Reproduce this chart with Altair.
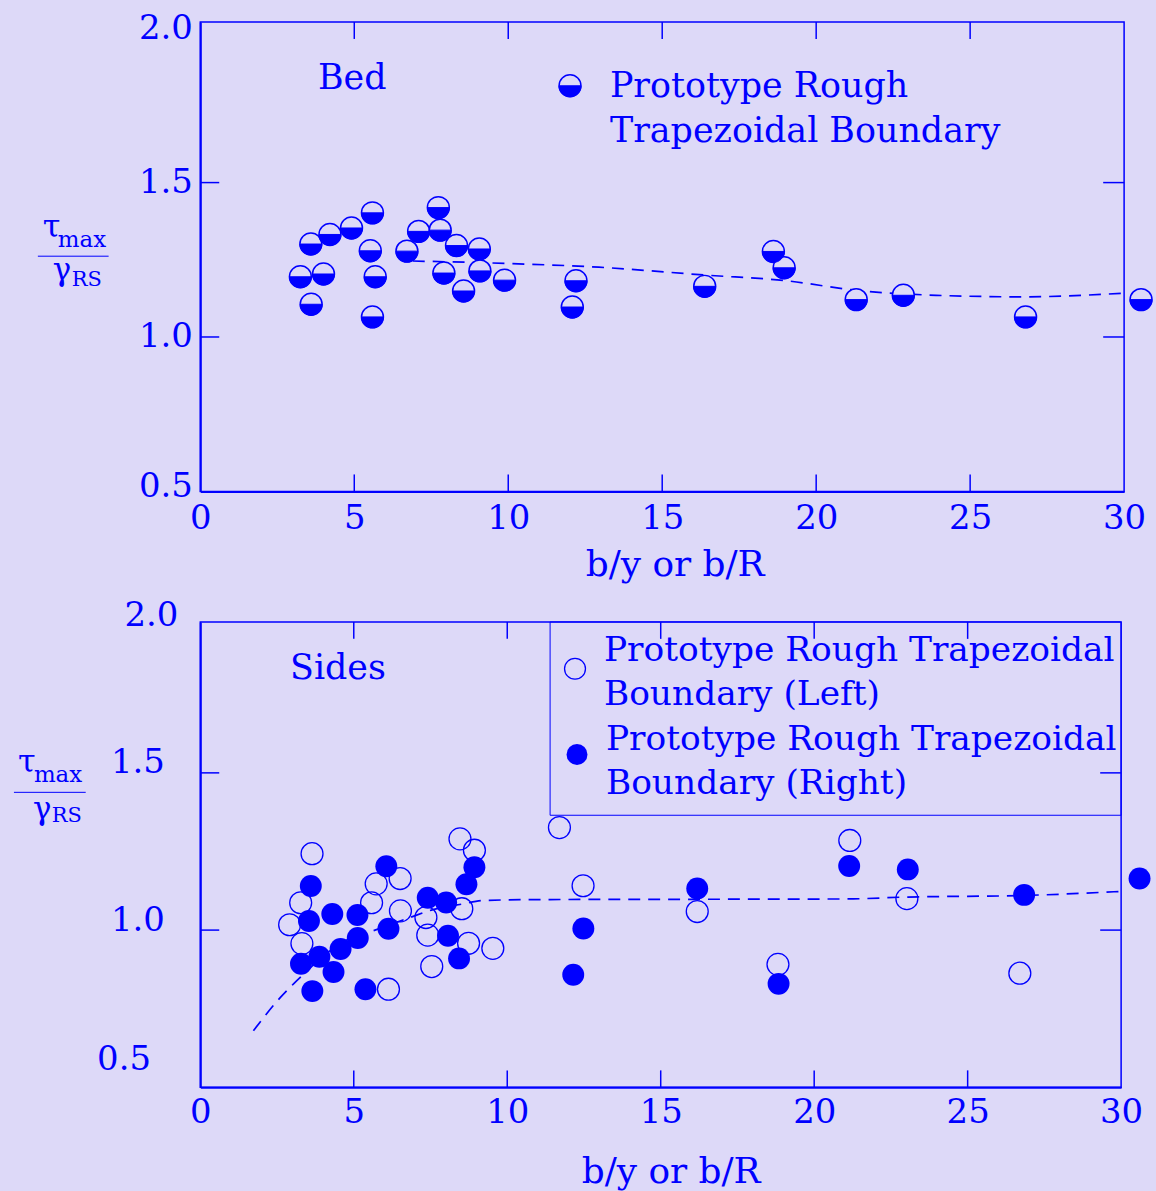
import altair as alt
import pandas as pd

BLUE = "#0000ff"
BG = "#ddd9f8"
FONT = "DejaVu Serif"

# ---------------- data ----------------
x_labels = [0, 5, 10, 15, 20, 25, 30]
y_labels = [0.5, 1.0, 1.5, 2.0]
x_ticks = [5, 10, 15, 20, 25]
y_ticks = [1.0, 1.5]

# Bed (top panel)
bed_x = [3.25, 3.59, 3.60, 4.00, 4.21, 4.91, 5.59, 5.52, 5.68, 5.59, 6.71, 7.09, 7.73, 7.79,
         7.91, 8.32, 8.55, 9.06, 9.08, 9.88, 12.20, 12.08, 16.38, 18.61, 18.96, 21.30, 22.83,
         26.80, 30.55]
bed_y = [1.195, 1.301, 1.106, 1.204, 1.332, 1.353, 1.402, 1.279, 1.195, 1.065, 1.278, 1.342,
         1.419, 1.346, 1.207, 1.296, 1.149, 1.285, 1.214, 1.184, 1.182, 1.097, 1.164, 1.277,
         1.224, 1.121, 1.135, 1.065, 1.121]
bed_fit_x = [6.9, 10.0, 12.94, 16.46, 18.95, 21.4, 23.9, 26.76, 30.0]
bed_fit_y = [1.246, 1.238, 1.226, 1.200, 1.183, 1.150, 1.135, 1.130, 1.142]

# Sides (bottom panel)
left_x = [3.64, 3.27, 2.91, 3.31, 5.73, 6.51, 5.58, 6.52, 7.35, 7.41, 7.54, 6.13, 8.46, 8.93,
          8.52, 8.74, 9.53, 11.70, 12.47, 16.19, 18.82, 21.16, 23.02, 26.70]
left_y = [1.243, 1.087, 1.017, 0.957, 1.147, 1.164, 1.087, 1.061, 1.040, 0.984, 0.884, 0.812,
          1.290, 1.254, 1.068, 0.958, 0.942, 1.326, 1.141, 1.059, 0.891, 1.285, 1.100, 0.863]
right_x = [3.60, 3.54, 3.28, 3.88, 3.65, 4.30, 4.34, 4.57, 5.12, 5.13, 5.38, 6.06, 6.13, 7.41,
           8.01, 8.07, 8.43, 8.67, 8.93, 12.48, 12.15, 16.19, 18.84, 21.14, 23.05, 26.84, 30.60]
right_y = [1.140, 1.029, 0.893, 0.915, 0.806, 1.051, 0.867, 0.940, 1.048, 0.975, 0.812, 1.203,
           1.004, 1.103, 1.088, 0.982, 0.910, 1.146, 1.200, 1.005, 0.858, 1.132, 0.829, 1.204,
           1.193, 1.112, 1.164]
sides_fit_x = [1.73, 2.61, 3.37, 4.1, 4.8, 5.64, 6.83, 7.58, 8.55, 9.2, 10.82, 16.0, 21.0, 23.0,
               26.8, 30.0]
sides_fit_y = [0.68, 0.786, 0.86, 0.925, 0.97, 0.998, 1.04, 1.065, 1.083, 1.094, 1.097, 1.098,
               1.099, 1.105, 1.11, 1.123]

legend_top = ["Prototype Rough", "Trapezoidal Boundary"]
legend_bottom = ["Prototype Rough Trapezoidal", "Boundary (Left)",
                 "Prototype Rough Trapezoidal", "Boundary (Right)"]
x_title = "b/y or b/R"

one = pd.DataFrame({"a": [0]})
HALF = "M -1 0 A 1 1 0 0 0 1 0 Z"
MSIZE = 484


def text_at(txt, x, y, size, align="left", baseline="middle"):
    return alt.Chart(one).mark_text(
        text=txt, font=FONT, fontSize=size, color=BLUE, align=align, baseline=baseline
    ).encode(x=alt.value(x), y=alt.value(y))


def panel(W, H, ydom, y_off, y_pad, x_pad, title_x, title_y, anchor, frac, label,
          label_pos):
    xs = alt.Scale(domain=[0, 30], nice=False, zero=False)
    ys = alt.Scale(domain=ydom, nice=False, zero=False)
    xaxis = alt.Axis(values=x_labels, format="d", ticks=False, grid=False,
                     domainColor=BLUE, domainWidth=2, labelColor=BLUE, labelFont=FONT,
                     labelFontSize=34, labelPadding=x_pad, labelFlush=False,
                     labelOverlap=False, title=x_title, titleColor=BLUE, titleFont=FONT,
                     titleFontSize=36, titleFontWeight="normal", titleX=title_x,
                     titleY=title_y, titleBaseline="middle", titleAlign="center")
    yaxis = alt.Axis(values=y_labels, format=".1f", ticks=False, grid=False,
                     domainColor=BLUE, domainWidth=2, labelColor=BLUE, labelFont=FONT,
                     labelFontSize=34, labelPadding=y_pad, labelOffset=y_off,
                     labelOverlap=False, labelFlush=False, title=None)

    def X(f):
        return alt.X(f, type="quantitative", scale=xs, axis=xaxis)

    def Y(f):
        return alt.Y(f, type="quantitative", scale=ys, axis=yaxis)

    ax0, ax1, ay0, ay1 = anchor
    layers = [
        alt.Chart(one).mark_rect(opacity=0).encode(
            x=alt.value(ax0), x2=alt.value(ax1), y=alt.value(ay0), y2=alt.value(ay1)),
    ]
    xt = pd.DataFrame({"xt": x_ticks})
    yt = pd.DataFrame({"yt": y_ticks})
    layers += [
        alt.Chart(xt).mark_rule(color=BLUE, strokeWidth=1.5).encode(
            x=X("xt"), y=alt.value(0), y2=alt.value(17)),
        alt.Chart(xt).mark_rule(color=BLUE, strokeWidth=1.5).encode(
            x=X("xt"), y=alt.value(H - 17), y2=alt.value(H)),
        alt.Chart(yt).mark_rule(color=BLUE, strokeWidth=1.5).encode(
            y=Y("yt"), x=alt.value(0), x2=alt.value(19)),
        alt.Chart(yt).mark_rule(color=BLUE, strokeWidth=1.5).encode(
            y=Y("yt"), x=alt.value(W - 21), x2=alt.value(W)),
    ]
    # y title as a fraction
    (tx, tb, mx, mb, lx0, lx1, ly, gx, gb, rx, rb) = frac
    layers += [
        text_at("\u03c4", tx, tb, 32, baseline="alphabetic"),
        text_at("max", mx, mb, 23, baseline="alphabetic"),
        alt.Chart(one).mark_rule(color=BLUE, strokeWidth=1).encode(
            x=alt.value(lx0), x2=alt.value(lx1), y=alt.value(ly)),
        text_at("\u03b3", gx, gb, 31, baseline="alphabetic"),
        text_at("RS", rx, rb, 21, baseline="alphabetic"),
        text_at(label, label_pos[0], label_pos[1], 35),
    ]
    return layers, X, Y


# ---------------- top panel ----------------
W1, H1 = 927, 471
top_layers, X1, Y1 = panel(
    W1, H1, [0.5, 2.02],
    {"condition": {"test": "datum.value == 0.5", "value": -5}, "value": 0},
    8, 10, 476, 73,
    (-200, 956, -19, 571),
    (-158, 216, -143, 226, -163, -92, 235, -148, 259, -129, 265),
    "Bed", (118, 56))

bed = pd.DataFrame({"x": bed_x, "y": bed_y})
bed_fit = pd.DataFrame({"x": bed_fit_x, "y": bed_fit_y})
top_layers += [
    alt.Chart(bed_fit).mark_line(color=BLUE, strokeWidth=1.7, strokeDash=[12, 8],
                                 interpolate="monotone").encode(x=X1("x"), y=Y1("y")),
    alt.Chart(bed).mark_point(shape="circle", filled=True, fill=BG, fillOpacity=1,
                              stroke=BLUE, strokeWidth=1.5, size=MSIZE, opacity=1).encode(
        x=X1("x"), y=Y1("y")),
    alt.Chart(bed).mark_point(shape=HALF, filled=True, fill=BLUE, fillOpacity=1, stroke=BLUE,
                              strokeWidth=1, size=MSIZE, opacity=1).encode(
        x=X1("x"), y=Y1("y")),
    # legend
    alt.Chart(one).mark_point(shape="circle", filled=True, fill=BG, fillOpacity=1,
                              stroke=BLUE, strokeWidth=1.5, size=MSIZE, opacity=1).encode(
        x=alt.value(371), y=alt.value(64)),
    alt.Chart(one).mark_point(shape=HALF, filled=True, fill=BLUE, fillOpacity=1, stroke=BLUE,
                              strokeWidth=1, size=MSIZE, opacity=1).encode(
        x=alt.value(371), y=alt.value(64)),
    text_at(legend_top[0], 411, 64, 35),
    text_at(legend_top[1], 411, 109, 35),
]
top = alt.layer(*top_layers).properties(width=W1, height=H1)

# ---------------- bottom panel ----------------
W2, H2 = 924, 467
bot_layers, X2, Y2 = panel(
    W2, H2, [0.5, 1.98],
    {"condition": [{"test": "datum.value == 0.5", "value": -28},
                   {"test": "datum.value == 2", "value": 0}], "value": -10},
    {"condition": [{"test": "datum.value == 0.5", "value": 50},
                   {"test": "datum.value == 2", "value": 22}], "value": 36},
    8, 472, 85,
    (-200, 956, -29, 581),
    (-183, 151, -167, 161, -187, -115, 171, -168, 198, -149, 201),
    "Sides", (90, 46))

left = pd.DataFrame({"x": left_x, "y": left_y})
right = pd.DataFrame({"x": right_x, "y": right_y})
sides_fit = pd.DataFrame({"x": sides_fit_x, "y": sides_fit_y})
top_label = pd.DataFrame({"v": [y_labels[-1]], "lbl": ["%.1f" % y_labels[-1]]})
bot_layers += [
    # the top label lies just above this panel's frame
    alt.Chart(top_label).mark_text(font=FONT, fontSize=34, color=BLUE, align="right",
                                   baseline="middle").encode(
        x=alt.value(-22), y=Y2("v"), text="lbl:N"),
    alt.Chart(one).mark_rect(fill=BG, fillOpacity=0, stroke=BLUE, strokeWidth=1).encode(
        x=alt.value(351), x2=alt.value(W2), y=alt.value(0), y2=alt.value(194)),
    alt.Chart(sides_fit).mark_line(color=BLUE, strokeWidth=1.7, strokeDash=[12, 8],
                                   interpolate="monotone").encode(x=X2("x"), y=Y2("y")),
    alt.Chart(left).mark_point(shape="circle", filled=False, stroke=BLUE, strokeWidth=1.3,
                               size=MSIZE, opacity=1).encode(x=X2("x"), y=Y2("y")),
    alt.Chart(right).mark_circle(color=BLUE, size=MSIZE, opacity=1).encode(
        x=X2("x"), y=Y2("y")),
    # legend
    alt.Chart(one).mark_point(shape="circle", filled=False, stroke=BLUE, strokeWidth=1.3,
                              size=440, opacity=1).encode(x=alt.value(376), y=alt.value(47)),
    alt.Chart(one).mark_circle(color=BLUE, size=440, opacity=1).encode(
        x=alt.value(378), y=alt.value(133)),
    text_at(legend_bottom[0], 405, 29, 34.5),
    text_at(legend_bottom[1], 405, 73, 34.5),
    text_at(legend_bottom[2], 407, 119, 34.5),
    text_at(legend_bottom[3], 407, 163, 34.5),
]
bottom = alt.layer(*bot_layers).properties(width=W2, height=H2)

chart = alt.concat(top, bottom, columns=1).properties(
    align="none", bounds="full", spacing=0, padding=0, background=BG
).configure_view(stroke=BLUE, strokeWidth=1.5, fill=None)

chart.save("out.html", embed_options={"renderer": "svg", "actions": False})
